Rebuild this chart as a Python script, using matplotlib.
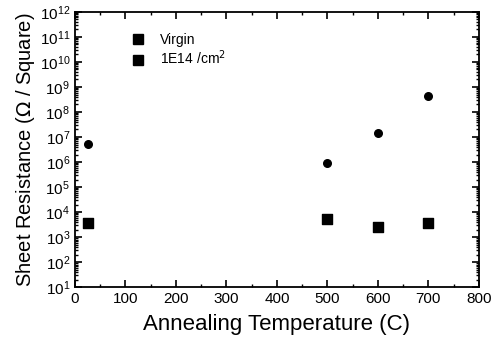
import numpy as np
import matplotlib
matplotlib.use("Agg")
from matplotlib import pyplot as plt
from matplotlib.lines import Line2D
from matplotlib.ticker import LogLocator, MultipleLocator, NullFormatter

plt.rcParams["font.family"] = ["Liberation Sans", "DejaVu Sans"]

temps = [25, 500, 600, 700]
virgin = [3.6e3, 5.2e3, 2.5e3, 3.6e3]
implanted = [5.2e6, 9e5, 1.45e7, 4.4e8]
legend_labels = ["Virgin", "1E14 /cm$^2$"]

fig = plt.figure(figsize=(5.03, 3.41), dpi=100)
ax = fig.add_axes([0.149, 0.158, 0.803, 0.807])

ax.scatter(temps, virgin, marker="s", s=52, color="black", zorder=3)
ax.scatter(temps, implanted, marker="o", s=30, color="black", zorder=3)

ax.set_yscale("log")
ax.set_xlim(0, 800)
ax.set_ylim(1e1, 1e12)
ax.xaxis.set_major_locator(MultipleLocator(100))
ax.xaxis.set_minor_locator(MultipleLocator(50))
ax.yaxis.set_major_locator(LogLocator(base=10, numticks=20))
ax.yaxis.set_minor_locator(LogLocator(base=10, subs=np.arange(2, 10), numticks=20))
ax.yaxis.set_minor_formatter(NullFormatter())
ax.tick_params(which="both", direction="in", top=True, right=True, labelsize=11)
ax.tick_params(which="major", length=5, width=1.2)
ax.tick_params(which="minor", length=2.5, width=1)
for sp in ax.spines.values():
    sp.set_linewidth(1.3)

ax.set_xlabel("Annealing Temperature (C)", fontsize=16, labelpad=6)
ax.set_ylabel("Sheet Resistance ($\\Omega$ / Square)", fontsize=14.5, labelpad=2)

handles = [Line2D([], [], marker="s", linestyle="", color="black", markersize=6.5)
           for _ in legend_labels]
ax.legend(handles, legend_labels, loc="upper left", bbox_to_anchor=(0.09, 0.97),
          frameon=False, fontsize=10, handletextpad=0.6, labelspacing=0.15)

fig.savefig("out.png", dpi=100)
